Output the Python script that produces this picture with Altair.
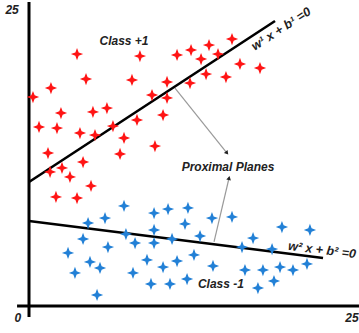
import altair as alt
import pandas as pd

# Class +1 samples (red)
red_x = [3.74, 8.64, 11.53, 4.44, 8.02, 10.75, 1.71, 0.31, 9.58, 10.75, 2.49, 4.98, 6.07, 10.44,
         0.78, 2.18, 3.97, 5.14, 6.54, 8.41, 7.40, 9.81, 1.48, 7.09, 4.21, 2.57, 1.64, 3.19,
         4.83, 2.10, 3.74, 12.62, 14.02, 15.81, 13.40, 14.72, 16.43, 17.99, 13.79, 15.34, 12.54]
red_y = [21.28, 21.11, 21.20, 19.17, 19.09, 18.92, 18.41, 17.65, 17.82, 17.57, 16.30, 16.39, 16.72, 16.13,
         15.12, 15.03, 14.61, 14.44, 15.20, 15.71, 14.19, 13.51, 12.92, 12.84, 12.16, 11.66, 11.32, 10.90,
         10.14, 9.21, 9.12, 21.62, 22.04, 22.55, 20.86, 21.28, 20.44, 20.10, 19.59, 19.34, 18.83]

# Class -1 samples (blue)
blue_x = [7.40, 9.74, 10.83, 5.92, 4.60, 9.74, 7.55, 4.21, 8.26, 9.74, 11.14, 6.15, 3.04, 4.75,
          5.53, 9.19, 10.44, 11.53, 3.58, 8.10, 9.50, 10.98, 5.30, 12.38, 12.15, 14.25, 15.81, 13.32,
          16.59, 12.85, 14.33, 16.82, 12.31, 17.45, 19.70, 21.88, 18.93, 18.22, 19.55, 20.56, 21.65,
          19.08, 17.83]
blue_y = [8.45, 7.85, 8.19, 7.43, 7.01, 6.42, 6.08, 5.66, 5.32, 5.32, 5.66, 4.98, 4.48, 3.72,
          3.21, 3.89, 3.29, 3.80, 2.79, 2.79, 1.86, 1.86, 0.93, 8.28, 6.93, 7.43, 7.52, 5.91,
          4.98, 4.31, 3.38, 3.04, 2.28, 5.74, 6.67, 6.42, 4.81, 3.04, 3.29, 3.04, 3.55,
          2.11, 1.52]

# Proximal planes (start/end points)
plane_names = ["upper", "lower"]
plane_x1 = [0.0, 0.0]
plane_y1 = [10.47, 7.18]
plane_x2 = [19.16, 22.90]
plane_y2 = [24.07, 4.05]

# Pointer arrows towards the "Proximal Planes" label
arrow_x1 = [11.37, 14.41]
arrow_y1 = [18.41, 5.41]
arrow_x2 = [15.42, 15.58]
arrow_y2 = [12.92, 10.81]
arrow_angle = [141, 13]

# Axis lines
axis_x1 = [0.0, -0.93]
axis_y1 = [-0.93, 0.0]
axis_x2 = [0.0, 25.7]
axis_y2 = [25.68, 0.0]

# Annotations
label_text = ["Class +1", "Class -1", "Proximal Planes"]
label_x = [7.4, 14.95, 15.5]
label_y = [22.38, 1.86, 11.74]

eq_text = ["w¹ x + b¹ =0", "w² x + b² =0"]
eq_x = [19.63, 22.82]
eq_y = [23.4, 4.73]
eq_angle = [327, 7]

tick_text = ["25", "0", "25"]
tick_x = [-1.32, -0.86, 25.15]
tick_y = [25.0, -1.0, -1.0]

FONT = "Liberation Sans"
STAR = "M0,-1 L0.27,-0.27 L1,0 L0.27,0.27 L0,1 L-0.27,0.27 L-1,0 L-0.27,-0.27 Z"

xs = alt.Scale(domain=[0, 25])
ys = alt.Scale(domain=[0, 25])

red = pd.DataFrame({"x": red_x, "y": red_y})
blue = pd.DataFrame({"x": blue_x, "y": blue_y})
planes = pd.DataFrame({"name": plane_names, "x": plane_x1, "y": plane_y1, "x2": plane_x2, "y2": plane_y2})
arrows = pd.DataFrame({"x": arrow_x1, "y": arrow_y1, "x2": arrow_x2, "y2": arrow_y2, "angle": arrow_angle})
axes_df = pd.DataFrame({"x": axis_x1, "y": axis_y1, "x2": axis_x2, "y2": axis_y2})
labels = pd.DataFrame({"t": label_text, "x": label_x, "y": label_y})
eqs = pd.DataFrame({"t": eq_text, "x": eq_x, "y": eq_y, "angle": eq_angle})
ticks = pd.DataFrame({"t": tick_text, "x": tick_x, "y": tick_y})

X = lambda f="x": alt.X(f"{f}:Q", scale=xs, axis=None)
Y = lambda f="y": alt.Y(f"{f}:Q", scale=ys, axis=None)

axis_lines = alt.Chart(axes_df).mark_rule(color="black", strokeWidth=3).encode(
    x=X(), y=Y(), x2="x2:Q", y2="y2:Q")

plane_lines = alt.Chart(planes).mark_rule(color="black", strokeWidth=2.6).encode(
    x=X(), y=Y(), x2="x2:Q", y2="y2:Q")

arrow_lines = alt.Chart(arrows).mark_rule(color="#9a9a9a", strokeWidth=1.2).encode(
    x=X(), y=Y(), x2="x2:Q", y2="y2:Q")

arrow_heads = alt.Chart(arrows).mark_point(shape="triangle-up", filled=True, size=22,
                                           color="#222222", opacity=1).encode(
    x=X("x2"), y=Y("y2"), angle=alt.Angle("angle:Q", scale=None))

red_pts = alt.Chart(red).mark_point(shape=STAR, filled=True, size=150, color="#ff1414",
                                    opacity=1).encode(x=X(), y=Y())
blue_pts = alt.Chart(blue).mark_point(shape=STAR, filled=True, size=150, color="#2280d6",
                                      opacity=1).encode(x=X(), y=Y())

label_marks = alt.Chart(labels).mark_text(font=FONT, fontSize=12, fontWeight="bold",
                                          fontStyle="italic", color="#222222").encode(
    x=X(), y=Y(), text="t:N")

eq_marks = alt.Chart(eqs).mark_text(font=FONT, fontSize=12.5, fontWeight="bold",
                                    fontStyle="italic", color="#222222").encode(
    x=X(), y=Y(), text="t:N", angle=alt.Angle("angle:Q", scale=None))

tick_marks = alt.Chart(ticks).mark_text(font=FONT, fontSize=12, fontWeight="bold",
                                        fontStyle="italic", color="#222222").encode(
    x=X(), y=Y(), text="t:N")

chart = alt.layer(
    axis_lines, plane_lines, arrow_lines, arrow_heads, red_pts, blue_pts,
    label_marks, eq_marks, tick_marks
).properties(
    width=321, height=296,
    autosize=alt.AutoSizeParams(type="none"),
    padding={"left": 29, "top": 10, "right": 9, "bottom": 27},
    background="white",
).configure_view(stroke=None)

chart.save("out.html", embed_options={"renderer": "svg", "actions": False})
